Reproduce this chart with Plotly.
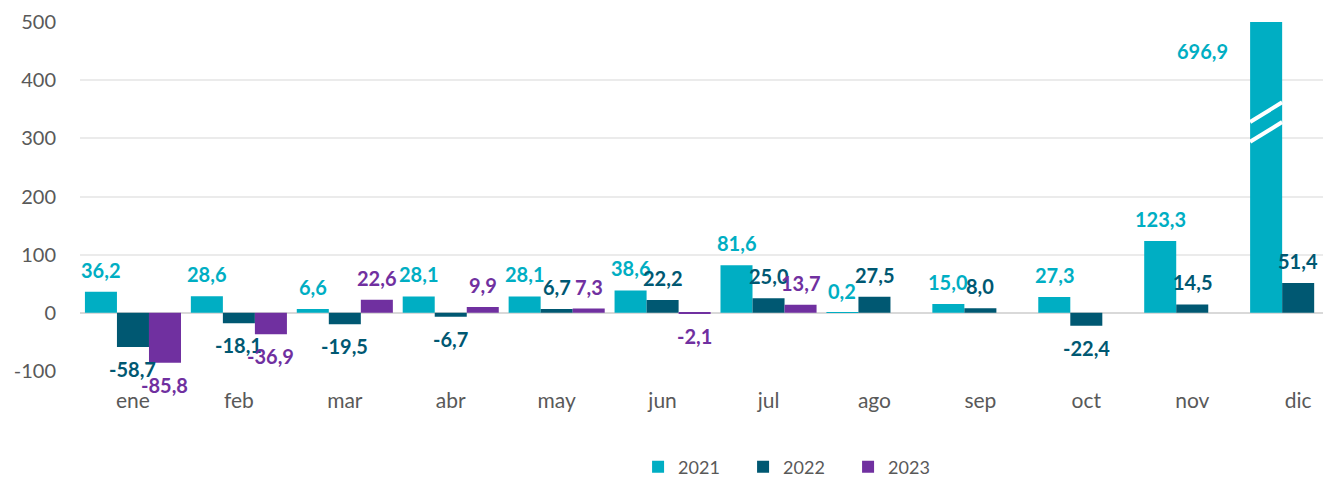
import plotly.graph_objects as go

months = ["ene", "feb", "mar", "abr", "may", "jun", "jul", "ago", "sep", "oct", "nov", "dic"]
v2021 = [36.2, 28.6, 6.6, 28.1, 28.1, 38.6, 81.6, 0.2, 15.0, 27.3, 123.3, 696.9]
v2022 = [-58.7, -18.1, -19.5, -6.7, 6.7, 22.2, 25.0, 27.5, 8.0, -22.4, 14.5, 51.4]
v2023 = [-85.8, -36.9, 22.6, 9.9, 7.3, -2.1, 13.7, None, None, None, None, None]
y_ticks = [-100, 0, 100, 200, 300, 400, 500]

series = [("2021", v2021, "#00AEC3"), ("2022", v2022, "#005872"), ("2023", v2023, "#7030A0")]

y_min, y_max = -100, 500
bargap = 0.093
font = "Lato, Calibri, sans-serif"


def fmt(v):
    return f"{v:.1f}".replace(".", ",")


fig = go.Figure()
w = (1 - bargap) / 3
for k, (name, vals, color) in enumerate(series):
    fig.add_trace(go.Bar(
        x=months, y=[None if v is None else min(v, y_max) for v in vals],
        name=name, marker=dict(color=color, line=dict(width=0)),
        hoverinfo="skip",
    ))
    # data labels, placed off the bar ends
    for i, v in enumerate(vals):
        if v is None:
            continue
        xc = i + (k - 1) * w
        if v > y_max:
            # bar runs off the axis: label beside it and draw a break mark
            fig.add_annotation(x=xc, y=y_max * 0.9, text=f"<b>{fmt(v)}</b>", showarrow=False,
                               xanchor="right", xshift=-36,
                               font=dict(family=font, size=20, color=color))
            for base in (294, 328):
                fig.add_shape(type="line", x0=xc - w / 2, x1=xc + w / 2, y0=base, y1=base + 34,
                              xref="x", yref="y", line=dict(color="white", width=4))
            continue
        fig.add_annotation(x=xc, y=v, text=f"<b>{fmt(v)}</b>", showarrow=False,
                           yanchor="bottom" if v >= 0 else "top",
                           yshift=8 if v >= 0 else -8,
                           font=dict(family=font, size=20, color=color))

# the page body has an 8px margin, so the figure is a little smaller than the window
fig.update_layout(
    width=1323, height=470,
    margin=dict(l=72, r=0, t=14, b=107, autoexpand=False),
    plot_bgcolor="white", paper_bgcolor="white",
    barmode="group", bargap=bargap, bargroupgap=0,
    font=dict(family=font, color="#595959"),
    showlegend=True,
    legend=dict(orientation="h", x=0.572, xanchor="center", y=-0.275, yanchor="middle",
                font=dict(family=font, size=18, color="#595959"), entrywidth=60),
)
fig.update_xaxes(range=[-0.5, 11.31], showgrid=False, showline=False, ticks="",
                 automargin=False,
                 tickfont=dict(family=font, size=21, color="#595959"),
                 ticklabelstandoff=15)
fig.update_yaxes(range=[y_min, y_max], tickvals=y_ticks, ticktext=[str(t) for t in y_ticks],
                 showgrid=True, gridcolor="#EBEBEB",
                 gridwidth=1.5, zeroline=True, zerolinecolor="#D9D9D9", zerolinewidth=2,
                 showline=False, ticks="", ticklabelstandoff=23, automargin=False,
                 tickfont=dict(family=font, size=20, color="#595959"))

fig.write_html("out.html")
